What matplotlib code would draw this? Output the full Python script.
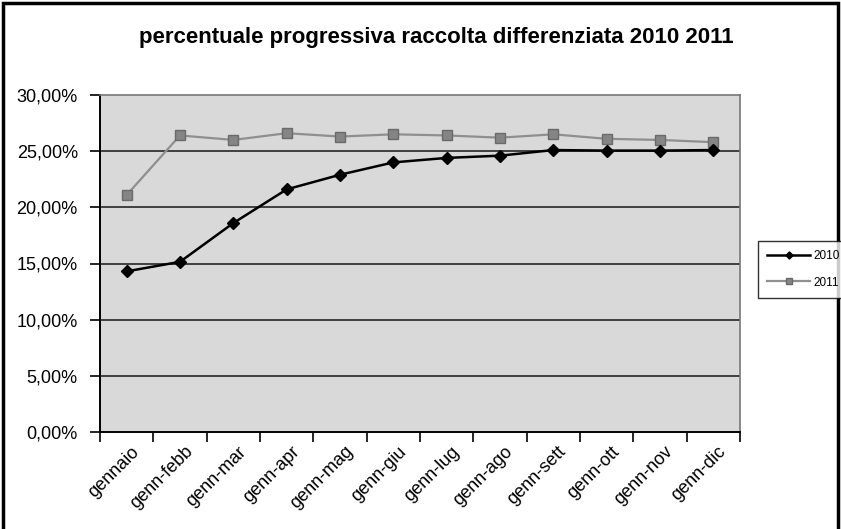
import matplotlib
matplotlib.use("Agg")
import matplotlib.pyplot as plt
from matplotlib.ticker import FuncFormatter, FixedLocator, MultipleLocator
from matplotlib.patches import Rectangle

categories = ["gennaio", "genn-febb", "genn-mar", "genn-apr", "genn-mag", "genn-giu",
              "genn-lug", "genn-ago", "genn-sett", "genn-ott", "genn-nov", "genn-dic"]
values_2010 = [14.3, 15.15, 18.6, 21.6, 22.9, 24.0, 24.4, 24.6, 25.1, 25.05, 25.05, 25.1]
values_2011 = [21.1, 26.4, 26.0, 26.6, 26.3, 26.5, 26.4, 26.2, 26.5, 26.1, 26.0, 25.8]
title = "percentuale progressiva raccolta differenziata 2010 2011"

plt.rcParams['font.family'] = ['Liberation Sans', 'DejaVu Sans']

fig = plt.figure(figsize=(8.41, 5.29), dpi=100)
ax = fig.add_axes([100/841, 1-432/529, 640/841, 337/529])
ax.set_facecolor('#d9d9d9')

x = list(range(len(categories)))
ax.plot(x, values_2010, color='black', lw=1.8, marker='D', ms=6, mfc='black', mec='black', label='2010', zorder=4)
ax.plot(x, values_2011, color='#8f8f8f', lw=1.6, marker='s', ms=7.5, mfc='#858585', mec='#6a6a6a', label='2011', zorder=3)

ax.set_xlim(-0.5, len(categories) - 0.5)
ax.set_ylim(0, 30)
ax.yaxis.set_major_locator(MultipleLocator(5))
ax.yaxis.set_major_formatter(FuncFormatter(lambda v, p: f"{v:.2f}%".replace('.', ',')))
for yv in [5, 10, 15, 20, 25]:
    ax.axhline(yv, color='#333333', lw=1.3, zorder=1)

ax.set_xticks([i + 0.08 for i in x])
ax.set_xticklabels(categories, rotation=45, ha='right', rotation_mode='anchor', fontsize=13)
ax.tick_params(axis='x', which='major', length=0, pad=8)
ax.xaxis.set_minor_locator(FixedLocator([i - 0.5 for i in range(len(categories) + 1)]))
ax.tick_params(axis='x', which='minor', length=7, width=1.2, color='black')
ax.tick_params(axis='y', length=7, width=1.2, labelsize=13, pad=9)

for s in ['left', 'bottom']:
    ax.spines[s].set_color('black')
    ax.spines[s].set_linewidth(1.4)
for s in ['top', 'right']:
    ax.spines[s].set_color('#777777')
    ax.spines[s].set_linewidth(1.2)

fig.text(436/841, 1-38/529, title, ha='center', va='center', fontsize=16, fontweight='bold')

leg = fig.legend(loc='upper left', bbox_to_anchor=(752/841, 1-235/529), fontsize=8.5,
                 frameon=True, fancybox=False, edgecolor='black', handlelength=3.6,
                 markerscale=0.6, borderpad=0.8, labelspacing=1.2, handletextpad=0.3)
leg.get_frame().set_linewidth(1.0)

fig.add_artist(Rectangle((3/841, -0.01), 835/841, 1 - 3/529 + 0.01, transform=fig.transFigure,
                         fill=False, edgecolor='black', lw=2.5))

fig.savefig('out.png', dpi=100)
